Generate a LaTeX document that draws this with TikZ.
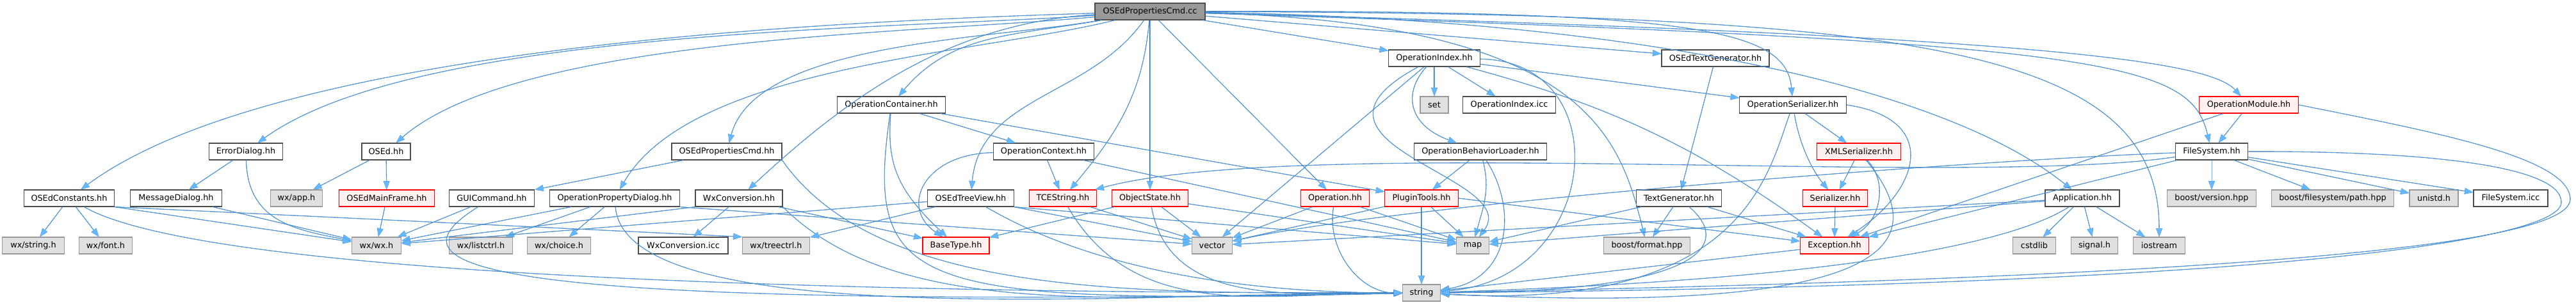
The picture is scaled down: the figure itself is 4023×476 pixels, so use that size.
\documentclass[tikz,border=0pt]{standalone}
\usepackage{fontspec}
\usepackage{xcolor}
\usepackage{tikz}
\usetikzlibrary{arrows.meta}
\newfontfamily\dejavu{DejaVu Sans}
\definecolor{edgeblue}{RGB}{99,184,255}
\definecolor{edgedark}{RGB}{50,105,165}
\definecolor{mainfill}{RGB}{153,153,153}
\definecolor{sysfill}{RGB}{224,224,224}
\definecolor{truncfill}{RGB}{255,240,240}

\begin{document}
\begin{tikzpicture}[x=0.75pt,y=0.75pt,
  every node/.style={font=\dejavu\fontsize{9.6}{11}\selectfont,inner sep=0pt,minimum height=19.5pt},
  file/.style={rectangle,draw=black!70,line width=0.9pt,fill=white},
  mainfile/.style={file,fill=mainfill},
  sysfile/.style={rectangle,draw=black!40,line width=0.9pt,fill=sysfill},
  truncfile/.style={rectangle,draw=red,line width=0.9pt,fill=truncfill},
  edge/.style={-{Triangle[length=10pt,width=7pt]},draw=edgeblue,line width=0.35pt,
    preaction={draw=edgedark,line width=0.8pt,-{Triangle[length=10pt,width=7.3pt]}}}
]
\useasboundingbox (0,0) rectangle (4023,476);

% row 0
\node[mainfile,minimum width=129pt] (root) at (1796,458) {OSEdPropertiesCmd.cc};
% row 1
\node[file,minimum width=107pt] (opidx) at (2240,385) {OperationIndex.hh};
\node[file,minimum width=126pt] (ostg) at (2679,385) {OSEdTextGenerator.hh};
% row 2
\node[file,minimum width=127pt] (opcont) at (1392,312) {OperationContainer.hh};
\node[sysfile,minimum width=33pt] (set) at (2240,312) {set};
\node[file,minimum width=109pt] (opidxicc) at (2357,312) {OperationIndex.icc};
\node[file,minimum width=125pt] (opser) at (2800,312) {OperationSerializer.hh};
\node[truncfile,minimum width=116pt] (opmod) at (3512,312) {OperationModule.hh};
% row 3
\node[file,minimum width=86pt] (errd) at (384,239) {ErrorDialog.hh};
\node[file,minimum width=57pt] (osed) at (603,239) {OSEd.hh};
\node[file,minimum width=129pt] (pcmdh) at (1135,239) {OSEdPropertiesCmd.hh};
\node[file,minimum width=118pt] (opctx) at (1630,239) {OperationContext.hh};
\node[file,minimum width=155pt] (bhvl) at (2312,239) {OperationBehaviorLoader.hh};
\node[truncfile,minimum width=98pt] (xmls) at (2903,239) {XMLSerializer.hh};
\node[file,minimum width=85pt] (fsys) at (3454,239) {FileSystem.hh};
% row 4
\node[file,minimum width=106pt] (cst) at (108,166) {OSEdConstants.hh};
\node[file,minimum width=107pt] (msgd) at (275,166) {MessageDialog.hh};
\node[sysfile,minimum width=61pt] (wxapp) at (463,166) {wx/app.h};
\node[truncfile,minimum width=112pt] (mainfr) at (604,166) {OSEdMainFrame.hh};
\node[file,minimum width=100pt] (gui) at (768,166) {GUICommand.hh};
\node[file,minimum width=152pt] (opdlg) at (960,166) {OperationPropertyDialog.hh};
\node[file,minimum width=102pt] (wxconv) at (1154,166) {WxConversion.hh};
\node[file,minimum width=101pt] (tree) at (1516,166) {OSEdTreeView.hh};
\node[truncfile,minimum width=79pt] (tces) at (1660,166) {TCEString.hh};
\node[truncfile,minimum width=89pt] (objst) at (1796,166) {ObjectState.hh};
\node[truncfile,minimum width=80pt] (oper) at (2085,166) {Operation.hh};
\node[truncfile,minimum width=86pt] (plug) at (2220,166) {PluginTools.hh};
\node[file,minimum width=100pt] (textgen) at (2622,166) {TextGenerator.hh};
\node[truncfile,minimum width=76pt] (ser) at (2866,166) {Serializer.hh};
\node[file,minimum width=87pt] (app) at (3252,166) {Application.hh};
\node[sysfile,minimum width=104pt] (bver) at (3454,166) {boost/version.hpp};
\node[sysfile,minimum width=143pt] (bpath) at (3643,166) {boost/filesystem/path.hpp};
\node[sysfile,minimum width=57pt] (unistd) at (3801,166) {unistd.h};
\node[file,minimum width=87pt] (fsicc) at (3921,166) {FileSystem.icc};
% row 5
\node[sysfile,minimum width=73pt] (wxstr) at (52,92) {wx/string.h};
\node[sysfile,minimum width=62pt] (wxfont) at (165,92) {wx/font.h};
\node[sysfile,minimum width=58pt] (wxh) at (588,92) {wx/wx.h};
\node[sysfile,minimum width=74pt] (wxlist) at (751,92) {wx/listctrl.h};
\node[sysfile,minimum width=74pt] (wxchoice) at (873,92) {wx/choice.h};
\node[file,minimum width=105pt] (wxconvicc) at (1067,92) {WxConversion.icc};
\node[sysfile,minimum width=79pt] (wxtree) at (1212,92) {wx/treectrl.h};
\node[truncfile,minimum width=78pt] (basetype) at (1493,92) {BaseType.hh};
\node[sysfile,minimum width=47pt] (vector) at (1893,92) {vector};
\node[sysfile,minimum width=38pt] (map) at (2300,92) {map};
\node[sysfile,minimum width=101pt] (bfmt) at (2572,92) {boost/format.hpp};
\node[truncfile,minimum width=80pt] (exc) at (2865,92) {Exception.hh};
\node[sysfile,minimum width=50pt] (cstdlib) at (3177,92) {cstdlib};
\node[sysfile,minimum width=55pt] (signal) at (3271,92) {signal.h};
\node[sysfile,minimum width=61pt] (ios) at (3372,92) {iostream};
% row 6
\node[sysfile,minimum width=44pt] (string) at (2220,18) {string};

% bends of the two long loops on the right
\coordinate (loopF) at (4000,160);
\coordinate (loopM) at (4014,165);

% includes of the main file
\draw[edge] (root) .. controls (1313,443) and (433,407) .. (cst);
\draw[edge] (root) .. controls (1398,430) and (649,432) .. (errd);
\draw[edge] (root) .. controls (1448,424) and (811,421) .. (osed);
\draw[edge] (root) .. controls (1547,414) and (1181,411) .. (pcmdh);
\draw[edge] (root) .. controls (1526,391) and (1080,374) .. (opdlg);
\draw[edge] (root) .. controls (1480,440) and (1320,320) .. (wxconv);
\draw[edge] (root) .. controls (1583,420) and (1486,424) .. (opcont);
\draw[edge] (root) .. controls (1702,324) and (1530,326) .. (tree);
\draw[edge] (root) .. controls (1785,330) and (1745,268) .. (tces);
\foreach \dst in {objst,oper,opidx,ostg} { \draw[edge] (root) -- (\dst); }
\draw[edge] (root) .. controls (2650,460) and (2790,430) .. (opser);
\draw[edge] (root) .. controls (2480,440) and (2530,260) .. (bfmt);
\draw[edge] (root) .. controls (2600,445) and (3050,330) .. (app);
\draw[edge] (root) .. controls (3200,420) and (3450,380) .. (opmod);
\draw[edge] (root) .. controls (3300,410) and (3420,380) .. (fsys);
\draw[edge] (root) .. controls (3000,455) and (3372,400) .. (ios);

% wx side
\draw[edge] (errd) -- (msgd);
\draw[edge] (errd) .. controls (387,131) and (458,117) .. (wxh);
\draw[edge] (msgd) -- (wxh);
\draw[edge] (osed) -- (wxapp);
\draw[edge] (osed) -- (mainfr);
\draw[edge] (mainfr) -- (wxh);
\draw[edge] (cst) -- (wxstr);
\draw[edge] (cst) -- (wxfont);
\draw[edge] (cst.south east) -- (wxh);
\draw[edge] (cst.south east) -- (wxtree.north west);
\draw[edge] (cst) .. controls (361,20) and (1791,18) .. (string);
\draw[edge] (pcmdh) -- (gui);
\draw[edge] (pcmdh.south east) .. controls (1374,7) and (1791,18) .. (string);
\draw[edge] (gui) -- (wxh);
\draw[edge] (gui) .. controls (600,60) and (700,-10) .. (string);
\draw[edge] (opdlg) -- (wxh);
\draw[edge] (opdlg) -- (wxlist);
\draw[edge] (opdlg) -- (wxchoice);
\draw[edge] (opdlg.south east) -- (vector);
\draw[edge] (opdlg) .. controls (977,-46) and (1791,18) .. (string);
\draw[edge] (wxconv) -- (wxconvicc);
\draw[edge] (wxconv.south west) -- (wxh);
\draw[edge] (wxconv) -- (basetype);
\draw[edge] (wxconv.south east) .. controls (1410,-35) and (1791,18) .. (string);
\draw[edge] (tree) -- (wxh);
\draw[edge] (tree) -- (wxtree);
\draw[edge] (tree.south east) -- (vector);
\draw[edge] (tree.south east) -- (map);
\draw[edge] (tree) .. controls (1608,113) and (1791,18) .. (string);

% operation side
\draw[edge] (opcont) -- (opctx);
\draw[edge] (opcont) -- (plug);
\draw[edge] (opcont) .. controls (1385,220) and (1400,180) .. (basetype);
\draw[edge] (opcont) .. controls (1350,20) and (1420,0) .. (string);
\draw[edge] (opctx) -- (tces);
\draw[edge] (opctx) .. controls (1440,235) and (1405,150) .. (basetype);
\draw[edge] (opctx) -- (map);
\draw[edge] (tces) -- (vector);
\draw[edge] (tces) .. controls (1773,-30) and (1979,18) .. (string);
\draw[edge] (objst) -- (basetype);
\draw[edge] (objst) -- (vector);
\draw[edge] (objst) -- (map);
\draw[edge] (objst) .. controls (1826,-7) and (2029,18) .. (string);
\draw[edge] (oper) -- (vector);
\draw[edge] (oper) -- (map);
\draw[edge] (oper) .. controls (2071,86) and (2123,18) .. (string);
\draw[edge] (plug) -- (map);
\draw[edge] (plug) -- (string);
\draw[edge] (plug) -- (vector);
\draw[edge] (plug.east) -- (exc);
\foreach \dst in {set,opidxicc,opser,vector} { \draw[edge] (opidx) -- (\dst); }
\draw[edge] (opidx) .. controls (2523,309) and (2653,244) .. (exc);
\draw[edge] (opidx) .. controls (2190,330) and (2200,280) .. (bhvl);
\draw[edge] (opidx) .. controls (1990,250) and (2380,200) .. (map);
\draw[edge] (opidx) .. controls (2530,380) and (2500,40) .. (string);
\draw[edge] (bhvl) -- (plug);
\draw[edge] (bhvl) .. controls (2328,180) and (2316,151) .. (map);
\draw[edge] (bhvl) .. controls (2370,150) and (2360,40) .. (string);
\draw[edge] (ostg) -- (textgen);
\draw[edge] (textgen) -- (bfmt);
\draw[edge] (textgen) -- (map);
\draw[edge] (textgen) -- (exc);
\draw[edge] (textgen) .. controls (2700,100) and (2680,20) .. (string);

% serializers
\draw[edge] (opser) -- (xmls);
\draw[edge] (opser) .. controls (2810,250) and (2830,210) .. (ser);
\draw[edge] (opser.east) .. controls (3030,290) and (3000,180) .. (exc);
\draw[edge] (opser) .. controls (2760,200) and (2720,-10) .. (string);
\draw[edge] (xmls) -- (ser);
\draw[edge] (xmls) .. controls (2950,190) and (2935,130) .. (exc);
\draw[edge] (xmls) .. controls (3010,110) and (3000,-20) .. (string);
\draw[edge] (ser) -- (exc);
\draw[edge] (exc) -- (string);

% application and file system
\foreach \dst in {cstdlib,signal,ios,vector,map} { \draw[edge] (app) -- (\dst); }
\draw[edge] (app) .. controls (3150,100) and (2900,40) .. (string);
\foreach \dst in {bver,bpath,unistd,fsicc} { \draw[edge] (fsys) -- (\dst); }
\draw[edge] (fsys) .. controls (3071,182) and (2028,265) .. (tces);
\draw[edge] (fsys) .. controls (3108,227) and (2204,160) .. (vector);
\draw[edge] (fsys) -- (exc);
\draw[edge] (fsys.east) .. controls (3800,240) and (4000,215) .. (loopF)
  .. controls (4003,105) and (3600,30) .. (string);
\draw[edge] (opmod) -- (fsys);
\draw[edge] (opmod) -- (exc);
\draw[edge] (opmod.east) .. controls (3800,270) and (4012,230) .. (loopM)
  .. controls (4016,100) and (3600,45) .. (string);

\end{tikzpicture}
\end{document}
